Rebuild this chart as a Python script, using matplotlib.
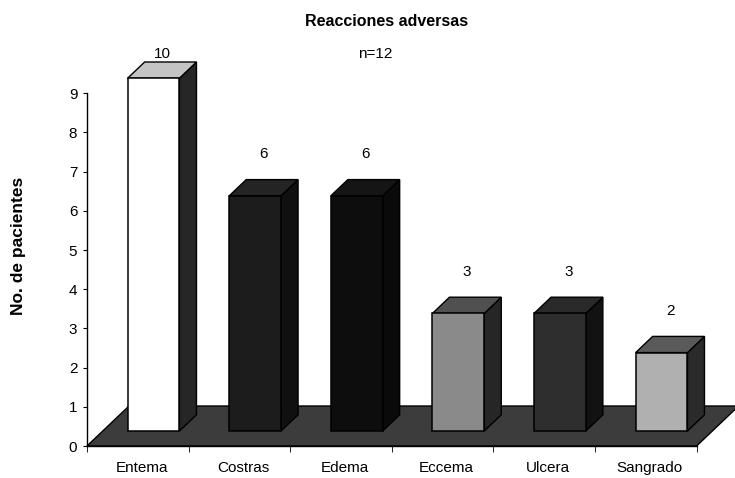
import numpy as np
import matplotlib
matplotlib.use("Agg")
import matplotlib.pyplot as plt
from matplotlib.patches import Polygon

plt.rcParams["font.family"] = ["Liberation Sans", "DejaVu Sans"]

categories = ["Entema", "Costras", "Edema", "Eccema", "Ulcera", "Sangrado"]
values = [10, 6, 6, 3, 3, 2]
y_ticks = [0, 1, 2, 3, 4, 5, 6, 7, 8, 9]

# front, side, top colours of each column
front_colors = ["#ffffff", "#1c1c1c", "#0d0d0d", "#8a8a8a", "#2e2e2e", "#b0b0b0"]
side_colors = ["#262626", "#101010", "#0a0a0a", "#262626", "#121212", "#2a2a2a"]
top_colors = ["#c4c4c4", "#242424", "#151515", "#505050", "#2a2a2a", "#5a5a5a"]
floor_color = "#3c3c3c"

YMAX = 9
W, H = 735, 478
PX_X = 101.6   # pixels per category
PX_Y = 39.2    # pixels per unit of value

# oblique depth: full floor depth moves things by (42px, 40px)
depth_dx = 42 / PX_X
depth_dy = 40 / PX_Y
d_front, d_back = 0.375, 0.78
bar_w = 0.51


def shift(d):
    return d * depth_dx, d * depth_dy


fig = plt.figure(figsize=(W / 100, H / 100), dpi=100)
left_px, bottom_px, top_px = 87, 32, 40
ax = fig.add_axes([left_px / W, bottom_px / H, (W - left_px) / W, (H - bottom_px - top_px) / H])
ax.set_xlim(-0.5, -0.5 + (W - left_px) / PX_X)
ax.set_ylim(0, (H - bottom_px - top_px) / PX_Y)

n = len(categories)

# floor
fx, fy = shift(1.0)
floor = Polygon([(-0.5, 0), (n - 0.5, 0), (n - 0.5 + fx, fy), (-0.5 + fx, fy)],
                closed=True, facecolor=floor_color, edgecolor="black", lw=1.0,
                clip_on=False, zorder=1)
ax.add_patch(floor)

sx1, sy1 = shift(d_front)
sx2, sy2 = shift(d_back)

for i, (v, fc, sc, tc) in enumerate(zip(values, front_colors, side_colors, top_colors)):
    h = min(v, YMAX)  # columns are cut at the axis maximum
    x0, x1 = i - bar_w / 2, i + bar_w / 2
    side = Polygon([(x1 + sx1, sy1), (x1 + sx2, sy2), (x1 + sx2, h + sy2), (x1 + sx1, h + sy1)],
                   closed=True, facecolor=sc, edgecolor="black", lw=1.0, zorder=2 + i)
    top = Polygon([(x0 + sx1, h + sy1), (x1 + sx1, h + sy1), (x1 + sx2, h + sy2), (x0 + sx2, h + sy2)],
                  closed=True, facecolor=tc, edgecolor="black", lw=1.0, zorder=2 + i)
    front = Polygon([(x0 + sx1, sy1), (x1 + sx1, sy1), (x1 + sx1, h + sy1), (x0 + sx1, h + sy1)],
                    closed=True, facecolor=fc, edgecolor="black", lw=1.1, zorder=2 + i)
    for p in (side, top, front):
        p.set_clip_on(False)
        ax.add_patch(p)
    # value label above the column, kept inside the plot area
    label_y = min(h + sy2 + 0.65, YMAX + 1.0)
    ax.text(i + (sx1 + sx2) / 2, label_y, str(v), ha="center", va="center",
            fontsize=11, zorder=20)

# axes styling
for s in ("top", "right"):
    ax.spines[s].set_visible(False)
ax.spines["left"].set_bounds(0, YMAX)
ax.spines["bottom"].set_bounds(-0.5, n - 0.5)
ax.spines["left"].set_linewidth(1.0)
ax.spines["bottom"].set_linewidth(1.0)

ax.set_yticks(y_ticks)
ax.tick_params(axis="y", direction="out", length=3, pad=4, labelsize=11)

ax.set_xticks(np.arange(n) + 0.04)
ax.set_xticklabels(categories)
ax.set_xticks(np.arange(n + 1) - 0.5, minor=True)
ax.tick_params(axis="x", which="major", length=0, pad=11, labelsize=11)
ax.tick_params(axis="x", which="minor", direction="out", length=4)

fig.text(19 / W, 1 - 246 / H, "No. de pacientes", rotation=90, ha="center", va="center",
         fontsize=12.5, fontweight="bold")
fig.text(387 / W, 1 - 21 / H, "Reacciones adversas", ha="center", va="center",
         fontsize=11.5, fontweight="bold")
fig.text(375 / W, 1 - 54 / H, "n=12", ha="center", va="center", fontsize=11)

fig.savefig("out.png", dpi=100)
